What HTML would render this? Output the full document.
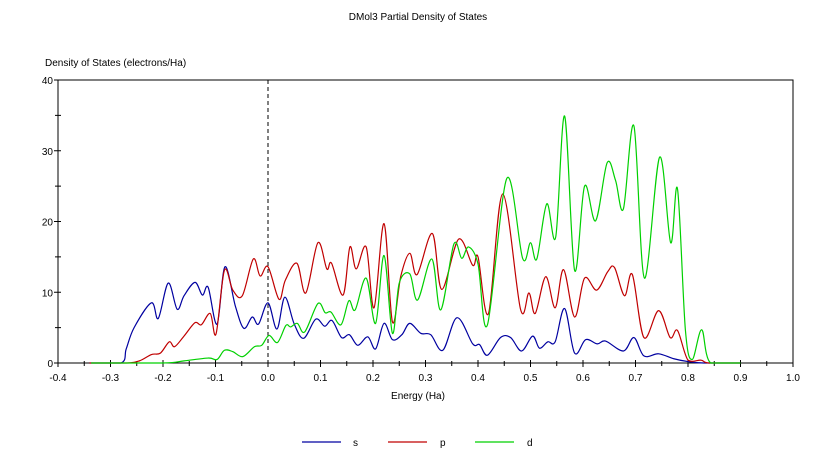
<!DOCTYPE html>
<html><head><meta charset="utf-8"><style>
body{margin:0;background:#fff;}
svg{display:block;font-family:"Liberation Sans",sans-serif;font-size:10px;}
</style></head><body>
<svg id="chart" width="838" height="457" viewBox="0 0 838 457">
<text x="418" y="20" text-anchor="middle" font-size="10">DMol3 Partial  Density of States</text>
<text x="45" y="66" font-size="10">Density of States (electrons/Ha)</text>
<text x="418" y="399" text-anchor="middle" font-size="10">Energy (Ha)</text>
<g id="axes"></g>
<g id="series"></g>
<g>
<line x1="302" y1="442" x2="341" y2="442" stroke="#0000a0" stroke-width="1.3"/>
<text x="353" y="446">s</text>
<line x1="388" y1="442" x2="427" y2="442" stroke="#c00000" stroke-width="1.3"/>
<text x="440" y="446">p</text>
<line x1="475" y1="442" x2="514" y2="442" stroke="#00d000" stroke-width="1.3"/>
<text x="527" y="446">d</text>
</g>
</svg>
<script>
const xTicks=[-0.4,-0.3,-0.2,-0.1,0.0,0.1,0.2,0.3,0.4,0.5,0.6,0.7,0.8,0.9,1.0];
const xTickLabels=["-0.4","-0.3","-0.2","-0.1","0.0","0.1","0.2","0.3","0.4","0.5","0.6","0.7","0.8","0.9","1.0"];
const yTicks=[0,10,20,30,40];
const yTickLabels=["0","10","20","30","40"];
const sE=[-0.34,-0.28,-0.27,-0.255,-0.222,-0.209,-0.19,-0.173,-0.16,-0.139,-0.125,-0.114,-0.097,-0.082,-0.062,-0.046,-0.03,-0.018,0.0,0.017,0.032,0.05,0.068,0.091,0.108,0.122,0.14,0.155,0.171,0.19,0.205,0.221,0.237,0.255,0.27,0.291,0.31,0.333,0.36,0.39,0.403,0.418,0.443,0.462,0.483,0.504,0.517,0.533,0.547,0.565,0.584,0.605,0.627,0.643,0.677,0.697,0.716,0.744,0.773,0.8,0.83,0.9];
const sV=[0,0,2,5,8.5,6.3,11.3,7.6,9.5,11.4,9.6,10.7,5.5,13.6,8,4.9,6.5,5.5,8.5,4.8,9.3,5.5,3.5,6.2,5.2,6,3.6,4,2.5,3.7,2.0,5.6,3.3,4,5.6,4.2,4,1.8,6.4,2.7,2.6,1.1,3.6,3.6,1.7,3.8,2.1,3,3,7.7,1.4,3.3,2.7,3.1,1.7,3.6,1,1.3,0.6,0.2,0,0];
const pE=[-0.34,-0.27,-0.245,-0.222,-0.205,-0.188,-0.178,-0.16,-0.139,-0.127,-0.11,-0.099,-0.083,-0.067,-0.049,-0.028,-0.015,0.0,0.021,0.033,0.055,0.072,0.095,0.112,0.121,0.143,0.156,0.168,0.187,0.202,0.221,0.237,0.253,0.27,0.284,0.313,0.331,0.363,0.39,0.4,0.42,0.447,0.481,0.497,0.509,0.529,0.547,0.563,0.584,0.603,0.626,0.647,0.66,0.679,0.694,0.716,0.744,0.766,0.78,0.8,0.825,0.84,0.9];
const pV=[0,0,0.3,1.2,1.4,3,2.3,3.8,5.7,5.4,7,4.1,13.1,10.3,9.5,14.7,12.3,13.6,9,11.7,14.1,9.9,17,13.3,14.1,9.6,16.4,13.3,16.4,7.8,19.7,5.8,12.3,15.5,12.5,18.3,10.4,17.5,13.8,15,7,23.9,7.6,9.9,7,12.2,7.8,13.2,6.5,12,10.3,12.9,13.5,9.5,12.5,3.6,7.4,3.6,4.6,0.4,0.4,0,0];
const dE=[-0.337,-0.2,-0.16,-0.114,-0.097,-0.083,-0.067,-0.048,-0.026,-0.012,0.002,0.018,0.034,0.043,0.056,0.07,0.095,0.109,0.12,0.139,0.154,0.166,0.187,0.205,0.221,0.237,0.25,0.27,0.285,0.312,0.329,0.354,0.369,0.382,0.4,0.418,0.455,0.485,0.5,0.512,0.531,0.548,0.565,0.584,0.603,0.624,0.646,0.662,0.677,0.697,0.717,0.746,0.767,0.78,0.795,0.808,0.826,0.843,0.9];
const dV=[0,0,0.3,0.7,0.5,1.8,1.6,0.9,2.3,2.5,3.9,2.9,5.3,5.1,5.6,4.4,8.4,7.1,7.2,5.4,8.8,7.5,12,5.6,15.2,4.2,11.3,12.6,8.9,14.7,7.5,16.8,14.8,16.4,14,5.4,26.1,14.8,17,14.7,22.5,17.8,34.9,13.1,25,20.1,28.3,25.8,21.8,33.5,12,29.1,17,24.6,4.7,0.5,4.7,0,0];

const L=58,R=793,T=80,B=363;
const X=e=>L+(e+0.4)/1.4*(R-L);
const Y=v=>B-v/40*(B-T);
const NS="http://www.w3.org/2000/svg";
const axes=document.getElementById('axes');
function mk(tag,attrs,parent){const el=document.createElementNS(NS,tag);for(const k in attrs)el.setAttribute(k,attrs[k]);parent.appendChild(el);return el;}
const frame=mk('rect',{x:L,y:T,width:R-L,height:B-T,fill:'none',stroke:'#000','stroke-width':1},axes);


xTicks.forEach((t,i)=>{
  const tk=mk('line',{x1:X(t),x2:X(t),y1:B-3,y2:B+4,stroke:'#000'},axes);
  
  
  if(i<xTicks.length-1){const m=mk('line',{x1:X(t+0.05),x2:X(t+0.05),y1:B-2,y2:B+3,stroke:'#000'},axes);
  
  }
  const lb=mk('text',{x:X(t),y:B+18,'text-anchor':'middle'},axes);lb.textContent=xTickLabels[i];
  
  
});
yTicks.forEach((t,i)=>{
  const tk=mk('line',{x1:L-4,x2:L+3,y1:Y(t),y2:Y(t),stroke:'#000'},axes);
  
  
  if(i<yTicks.length-1){const m=mk('line',{x1:L-3,x2:L+3,y1:Y(t+5),y2:Y(t+5),stroke:'#000'},axes);
  
  }
  const lb=mk('text',{x:L-5,y:Y(t)+4,'text-anchor':'end'},axes);lb.textContent=yTickLabels[i];
  
  
});
const zl=mk('line',{x1:X(0),x2:X(0),y1:T,y2:B,stroke:'#000','stroke-dasharray':'4,3'},axes);


function path(E,V){
  const p=E.map((e,i)=>[X(e),Y(V[i])]);
  let d='M'+p[0][0]+','+p[0][1];
  for(let i=0;i<p.length-1;i++){
    const p0=p[i-1]||p[i],p1=p[i],p2=p[i+1],p3=p[i+2]||p[i+1];
    let c1y=p1[1]+(p2[1]-p0[1])/6,c2y=p2[1]-(p3[1]-p1[1])/6;
    c1y=Math.min(B,c1y);c2y=Math.min(B,c2y);
    d+=` C${p1[0]+(p2[0]-p0[0])/6},${c1y} ${p2[0]-(p3[0]-p1[0])/6},${c2y} ${p2[0]},${p2[1]}`;
  }
  return d;
}
const sg=document.getElementById('series');
const sp=mk('path',{d:path(sE,sV),fill:'none',stroke:'#0000a0','stroke-width':1.2},sg);


const pp=mk('path',{d:path(pE,pV),fill:'none',stroke:'#c00000','stroke-width':1.2},sg);


const dp=mk('path',{d:path(dE,dV),fill:'none',stroke:'#00d000','stroke-width':1.2},sg);


</script>
</body></html>
